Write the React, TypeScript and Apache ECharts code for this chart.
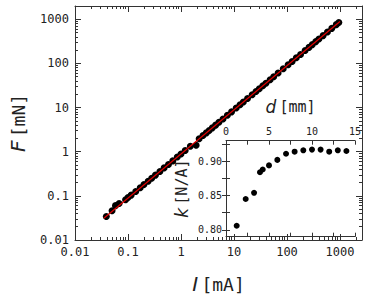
import React, { useEffect, useRef } from "react";
import * as echarts from "echarts";

// Main plot: current I [mA] vs force F [mN]
const currentI = [
  0.039, 0.05, 0.058, 0.068, 0.09, 0.1, 0.115, 0.14, 0.17, 0.2, 0.24, 0.28, 0.33, 0.4, 0.48, 0.58, 0.7, 0.85,
  1.0, 1.2, 1.5, 1.93, 2.2, 2.6, 3.0, 3.4, 3.9, 4.5, 5.2, 6.2, 7.5, 9.0, 11, 13, 15, 18, 22, 26, 30, 35, 40,
  48, 56, 68, 85, 105, 125, 150, 180, 220, 260, 300, 350, 400, 480, 580, 700, 850, 950,
];
const forceF = [
  0.034, 0.046, 0.06, 0.067, 0.082, 0.092, 0.104, 0.125, 0.152, 0.18, 0.215, 0.25, 0.295, 0.355, 0.43, 0.515,
  0.62, 0.76, 0.89, 1.07, 1.33, 1.4, 1.96, 2.32, 2.67, 3.03, 3.47, 4.0, 4.63, 5.5, 6.7, 8.0, 9.8, 11.6, 13.4,
  16.0, 19.6, 23.1, 26.7, 31.2, 35.6, 42.7, 49.8, 60.5, 75.7, 93.5, 111, 134, 160, 196, 231, 267, 312, 356,
  427, 516, 623, 757, 845,
];
// Fitted line endpoints
const fitI = [0.035, 1000];
const fitF = [0.031, 890];

// Inset: distance d [mm] vs k [N/A]
const distD = [1.24, 2.29, 3.26, 3.95, 4.27, 5.0, 5.97, 6.98, 7.98, 8.99, 10.0, 11.0, 12.0, 13.0, 14.0];
const constK = [0.806, 0.845, 0.854, 0.884, 0.888, 0.894, 0.902, 0.911, 0.914, 0.916, 0.917, 0.917, 0.914, 0.916, 0.915];

// Tick values
const logMajor = [0.01, 0.1, 1, 10, 100, 1000];
const logMinor = [
  0.02, 0.03, 0.04, 0.05, 0.06, 0.07, 0.08, 0.09,
  0.2, 0.3, 0.4, 0.5, 0.6, 0.7, 0.8, 0.9,
  2, 3, 4, 5, 6, 7, 8, 9,
  20, 30, 40, 50, 60, 70, 80, 90,
  200, 300, 400, 500, 600, 700, 800, 900,
  2000,
];
const insetXLabels = [0, 5, 10, 15];
const insetXTicks = [0, 2.5, 5, 7.5, 10, 12.5, 15];
const insetYLabels = [0.8, 0.85, 0.9];
const insetYTicks = [0.8, 0.825, 0.85, 0.875, 0.9, 0.925];

const AXIS_COLOR = "#333";
const MONO = "DejaVu Sans Mono";

function fmtLog(v: number) {
  if (v >= 1) return String(Math.round(v));
  return String(v);
}

export default function App() {
  const ref = useRef<HTMLDivElement>(null);
  useEffect(() => {
    if (!ref.current) return;
    const chart = echarts.init(ref.current, undefined, { renderer: "svg" });

    const XMIN = 0.01, XMAX = 2600, YMIN = 0.01, YMAX = 2000;

    const logAxis = (dim: "x" | "y", pos: string, major: boolean, labels: boolean, line: boolean, extra: any = {}) => ({
      type: "log",
      gridIndex: 0,
      position: pos,
      min: dim === "x" ? XMIN : YMIN,
      max: dim === "x" ? XMAX : YMAX,
      logBase: 10,
      axisLine: { show: line, lineStyle: { color: AXIS_COLOR, width: 1 } },
      axisTick: {
        show: true,
        inside: true,
        length: major ? 6 : 3,
        customValues: major ? logMajor : logMinor,
        lineStyle: { color: AXIS_COLOR, width: 1 },
      },
      axisLabel: labels
        ? {
            show: true,
            customValues: logMajor,
            formatter: (v: number) => fmtLog(v),
            fontFamily: MONO,
            fontSize: 12,
            color: "#222",
            margin: 6,
          }
        : { show: false },
      splitLine: { show: false },
      ...extra,
    });

    const xAxes: any[] = [
      logAxis("x", "bottom", true, true, true, {
        name: "{i|I} {n|[mA]}",
        nameLocation: "middle",
        nameGap: 34,
        nameTextStyle: {
          rich: {
            i: { fontFamily: "DejaVu Sans", fontStyle: "italic", fontSize: 20, color: "#222" },
            n: { fontFamily: MONO, fontSize: 18, color: "#222" },
          },
        },
      }),
      logAxis("x", "bottom", false, false, false),
      logAxis("x", "top", true, false, true),
      logAxis("x", "top", false, false, false),
      {
        type: "value",
        gridIndex: 1,
        position: "top",
        min: 0,
        max: 15,
        axisLine: { show: true, lineStyle: { color: AXIS_COLOR } },
        axisTick: { show: true, inside: true, length: 4, customValues: insetXTicks, lineStyle: { color: AXIS_COLOR } },
        axisLabel: { show: true, customValues: insetXLabels, fontFamily: MONO, fontSize: 10, color: "#222", margin: 4 },
        splitLine: { show: false },
        name: "{i|d} {n|[mm]}",
        nameLocation: "middle",
        nameGap: 25,
        nameTextStyle: {
          rich: {
            i: { fontFamily: "DejaVu Sans", fontStyle: "italic", fontSize: 17, color: "#222" },
            n: { fontFamily: MONO, fontSize: 15, color: "#222" },
          },
        },
      },
      {
        type: "value",
        gridIndex: 1,
        position: "bottom",
        min: 0,
        max: 15,
        axisLine: { show: true, lineStyle: { color: AXIS_COLOR } },
        axisTick: { show: true, inside: true, length: 4, customValues: insetXTicks, lineStyle: { color: AXIS_COLOR } },
        axisLabel: { show: false },
        splitLine: { show: false },
      },
    ];

    const yAxes: any[] = [
      logAxis("y", "left", true, true, true, {
        name: "{i|F} {n|[mN]}",
        nameLocation: "middle",
        nameGap: 47,
        nameRotate: 90,
        nameTextStyle: {
          rich: {
            i: { fontFamily: "DejaVu Sans", fontStyle: "italic", fontSize: 20, color: "#222" },
            n: { fontFamily: MONO, fontSize: 18, color: "#222" },
          },
        },
      }),
      logAxis("y", "left", false, false, false),
      logAxis("y", "right", true, false, true),
      logAxis("y", "right", false, false, false),
      {
        type: "value",
        gridIndex: 1,
        position: "left",
        min: 0.79,
        max: 0.93,
        axisLine: { show: true, lineStyle: { color: AXIS_COLOR } },
        axisTick: { show: true, inside: true, length: 4, customValues: insetYTicks, lineStyle: { color: AXIS_COLOR } },
        axisLabel: {
          show: true,
          customValues: insetYLabels,
          formatter: (v: number) => v.toFixed(2),
          fontFamily: MONO,
          fontSize: 10,
          color: "#222",
          margin: 4,
        },
        splitLine: { show: false },
        name: "{i|k} {n|[N/A]}",
        nameLocation: "middle",
        nameGap: 36,
        nameRotate: 90,
        nameTextStyle: {
          rich: {
            i: { fontFamily: "DejaVu Sans", fontStyle: "italic", fontSize: 17, color: "#222" },
            n: { fontFamily: MONO, fontSize: 15, color: "#222" },
          },
        },
      },
      {
        type: "value",
        gridIndex: 1,
        position: "right",
        min: 0.79,
        max: 0.93,
        axisLine: { show: true, lineStyle: { color: AXIS_COLOR } },
        axisTick: { show: true, inside: true, length: 4, customValues: insetYTicks, lineStyle: { color: AXIS_COLOR } },
        axisLabel: { show: false },
        splitLine: { show: false },
      },
    ];

    chart.setOption({
      animation: false,
      backgroundColor: "#fff",
      grid: [
        { left: 66, top: 6, right: 5, bottom: 52.5, containLabel: false },
        { left: 226, top: 140.7, right: 12, bottom: 62.3, containLabel: false, show: true, backgroundColor: "#fff", borderWidth: 0 },
      ],
      xAxis: xAxes,
      yAxis: yAxes,
      series: [
        {
          type: "scatter",
          xAxisIndex: 0,
          yAxisIndex: 0,
          data: currentI.map((v, i) => [v, forceF[i]]),
          symbolSize: 7,
          itemStyle: { color: "#000", opacity: 1 },
        },
        {
          type: "line",
          xAxisIndex: 0,
          yAxisIndex: 0,
          data: fitI.map((v, i) => [v, fitF[i]]),
          showSymbol: false,
          symbol: "none",
          lineStyle: { color: "#e00000", width: 1.2 },
        },
        {
          type: "scatter",
          xAxisIndex: 4,
          yAxisIndex: 4,
          data: distD.map((v, i) => [v, constK[i]]),
          symbolSize: 6,
          itemStyle: { color: "#000", opacity: 1 },
        },
      ],
    });
    return () => chart.dispose();
  }, []);
  return <div ref={ref} style={{ width: 367, height: 299, position: "absolute", left: 0, top: 0 }} />;
}
